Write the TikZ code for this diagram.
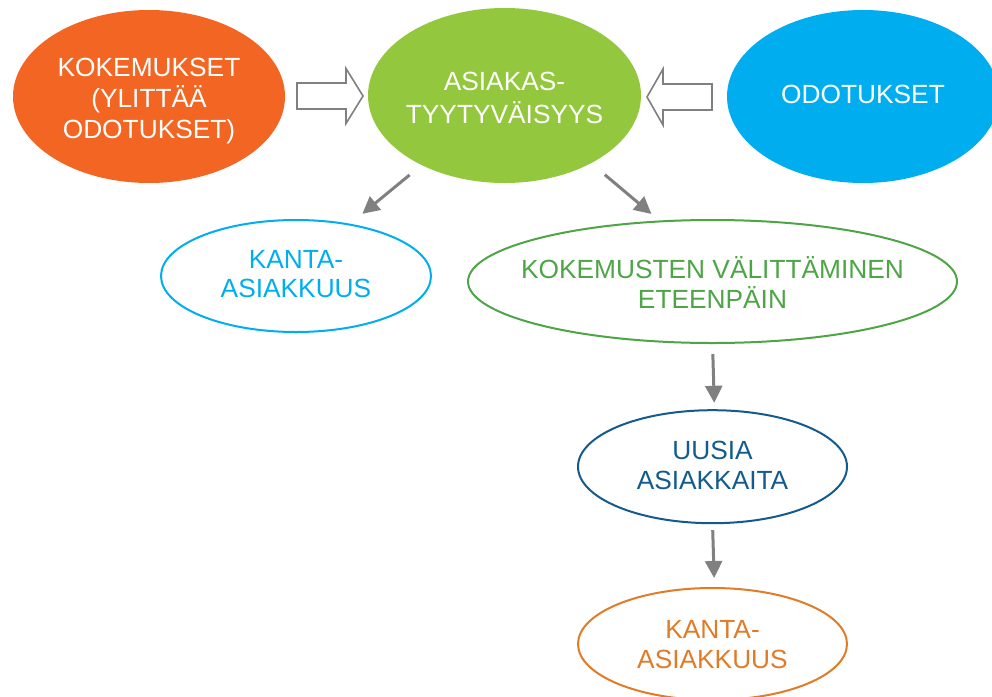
\documentclass[tikz,border=0pt]{standalone}
\usepackage{fontspec}
\setmainfont{Liberation Sans}
\usetikzlibrary{shapes.geometric,arrows.meta,calc}

\definecolor{cOrange}{HTML}{F26522}
\definecolor{cGreen}{HTML}{93C73E}
\definecolor{cBlue}{HTML}{00AEEF}
\definecolor{cLeaf}{HTML}{4DA546}
\definecolor{cNavy}{HTML}{135B8D}
\definecolor{cAmber}{HTML}{E07B28}
\definecolor{cGray}{HTML}{808080}

\tikzset{
  bubble/.style={ellipse, inner sep=0pt, outer sep=0pt, draw=none, fill=#1},
  ring/.style={ellipse, inner sep=0pt, outer sep=0pt, draw=#1, line width=2pt},
  bigtext/.style={font=\fontsize{26.3}{33}\selectfont, align=center, text=#1, inner sep=0pt},
  ringtext/.style={font=\fontsize{26.3}{30}\selectfont, align=center, text=#1, inner sep=0pt},
  flow/.style={draw=cGray, line width=3pt, -{Triangle[length=17pt,width=17pt]}},
  hollow/.style={draw=cGray, fill=white, line width=1.6pt, line join=miter}
}

\begin{document}
\begin{tikzpicture}[x=1pt, y=-1pt]
  \useasboundingbox (0,0) rectangle (992,696);
  \clip (0,0) rectangle (992,696);

  % top row: filled bubbles
  \node[bubble=cOrange, minimum width=272pt, minimum height=173pt] (exp) at (149,96.5) {};
  \node[bubble=cGreen,  minimum width=273pt, minimum height=175pt] (sat) at (504.5,95.5) {};
  \node[bubble=cBlue,   minimum width=272pt, minimum height=173pt] (odo) at (863,96.5) {};

  \node[bigtext=white, font=\fontsize{26.3}{31}\selectfont] (expT) at ($(exp)+(0,4.3)$)
       {KOKEMUKSET\\(YLITTÄÄ\\ODOTUKSET)};
  \node[bigtext=white] (satT) at ($(sat)+(0,2.5)$) {ASIAKAS-\\TYYTYVÄISYYS};
  \node[bigtext=white] (odoT) at ($(odo)+(0,-2)$) {ODOTUKSET};

  % outlined bubbles
  \node[ring=cBlue,  minimum width=270pt, minimum height=112pt] (loyal) at (296,276) {};
  \node[ring=cLeaf,  minimum width=489pt, minimum height=123pt] (word)  at (712.5,281.5) {};
  \node[ring=cNavy,  minimum width=269pt, minimum height=113pt] (new)   at (712.5,466.7) {};
  \node[ring=cAmber, minimum width=269pt, minimum height=112pt] (loyal2) at (712.5,644) {};

  \node[ringtext=cBlue, font=\fontsize{26.3}{28.3}\selectfont] (loyalT) at ($(loyal)+(0,-2)$)
       {KANTA-\\ASIAKKUUS};
  \node[ringtext=cLeaf]  (wordT)   at ($(word)+(0,1)$)     {KOKEMUSTEN VÄLITTÄMINEN\\ETEENPÄIN};
  \node[ringtext=cNavy]  (newT)    at ($(new)+(0,-1.7)$)   {UUSIA\\ASIAKKAITA};
  \node[ringtext=cAmber] (loyal2T) at ($(loyal2)+(0,0.5)$) {KANTA-\\ASIAKKUUS};

  % hollow block arrows feeding the centre bubble
  \draw[hollow] (297,83) -- (346,83) -- (346,68.5) -- (363,96) -- (346,123.5)
                -- (346,109) -- (297,109) -- cycle;
  \draw[hollow] (712,84) -- (663,84) -- (663,69) -- (647,97) -- (663,125)
                -- (663,110) -- (712,110) -- cycle;

  % grey flow arrows
  \draw[flow, shorten <=15.6pt, shorten >=16.9pt] (sat.220) -- (loyal.44.2);
  \draw[flow, shorten <=18pt,   shorten >=11.6pt] (sat.322.3) -- (word.131.9);
  \draw[flow, shorten <=11pt,   shorten >=7.4pt]  (word.270.5) -- (new.88);
  \draw[flow, shorten <=7pt,    shorten >=10pt]   (new.270) -- (loyal2.88);
\end{tikzpicture}
\end{document}
